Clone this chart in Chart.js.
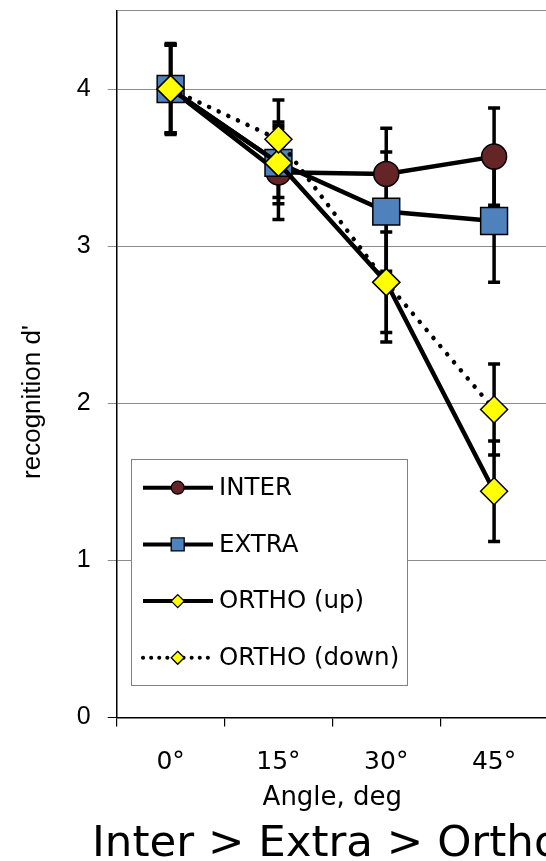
<!DOCTYPE html>
<html>
<head>
<meta charset="utf-8">
<script src="https://cdn.jsdelivr.net/npm/chart.js@4.4.0/dist/chart.umd.min.js"></script>
<style>
  html, body { margin: 0; padding: 0; background: #fff; overflow: hidden; }
  #wrap { width: 560px; height: 861px; }
</style>
</head>
<body>
<div id="wrap"><canvas id="chart" width="560" height="861"></canvas></div>
<script>
const angles = ['0°', '15°', '30°', '45°'];
const seriesNames = ['INTER', 'EXTRA', 'ORTHO (up)', 'ORTHO (down)'];

const interMean = [4.00, 3.47, 3.46, 3.57];
const interErr = [0.29, 0.30, 0.29, 0.31];
const extraMean = [4.00, 3.53, 3.22, 3.16];
const extraErr = [0.28, 0.26, 0.38, 0.39];
const orthoUpMean = [4.00, 3.53, 2.77, 1.44];
const orthoUpErr = [0.28, 0.22, 0.32, 0.32];
const orthoDownMean = [4.00, 3.68, 2.77, 1.96];
const orthoDownErr = [0.28, 0.25, 0.38, 0.29];

const yTicks = [0, 1, 2, 3, 4];
const yMax = 4.5;

const chartTitle = 'Inter > Extra > Ortho';
const xTitle = 'Angle, deg';
const yTitle = "recognition d'";

const GRID = '#8c8c8c';

// error bars under the lines and markers
const errorBars = {
    id: 'errorBars',
    beforeDatasetsDraw(chart) {
        const ctx = chart.ctx;
        const y = chart.scales.y;
        ctx.save();
        ctx.strokeStyle = '#000';
        ctx.lineWidth = 3.5;
        chart.data.datasets.forEach((ds, i) => {
            const meta = chart.getDatasetMeta(i);
            meta.data.forEach((pt, j) => {
                const hi = y.getPixelForValue(ds.data[j] + ds.errors[j]);
                const lo = y.getPixelForValue(ds.data[j] - ds.errors[j]);
                ctx.beginPath();
                ctx.moveTo(pt.x, hi); ctx.lineTo(pt.x, lo);
                ctx.moveTo(pt.x - 6, hi); ctx.lineTo(pt.x + 6, hi);
                ctx.moveTo(pt.x - 6, lo); ctx.lineTo(pt.x + 6, lo);
                ctx.stroke();
            });
        });
        ctx.restore();
    }
};

function drawMarker(ctx, style, x, y, fill) {
    ctx.beginPath();
    if (style === 'circle') {
        ctx.arc(x, y, 6.5, 0, Math.PI * 2);
    } else if (style === 'rect') {
        ctx.rect(x - 6.5, y - 6.5, 13, 13);
    } else {
        ctx.moveTo(x, y - 6.5); ctx.lineTo(x + 6.5, y);
        ctx.lineTo(x, y + 6.5); ctx.lineTo(x - 6.5, y);
        ctx.closePath();
    }
    ctx.fillStyle = fill;
    ctx.fill();
    ctx.lineWidth = 1.3;
    ctx.strokeStyle = '#000';
    ctx.stroke();
}

// legend box inside the plot, axis title and slide caption
const extras = {
    id: 'extras',
    afterDraw(chart) {
        const ctx = chart.ctx;
        ctx.save();

        // legend
        ctx.fillStyle = '#fff';
        ctx.fillRect(131, 459, 276.5, 226.7);
        ctx.strokeStyle = '#808080';
        ctx.lineWidth = 1;
        ctx.strokeRect(131.5, 459.5, 276, 226);
        chart.data.datasets.forEach((ds, i) => {
            const ry = 487.7 + i * 56.7;
            ctx.strokeStyle = '#000';
            ctx.lineWidth = 4;
            ctx.lineCap = ds.borderDash ? 'round' : 'butt';
            ctx.setLineDash(ds.borderDash ? [0.1, 8] : []);
            ctx.beginPath();
            ctx.moveTo(143, ry); ctx.lineTo(213, ry);
            ctx.stroke();
            ctx.setLineDash([]);
            drawMarker(ctx, ds.pointStyle, 177.7, ry, ds.pointBackgroundColor);
            ctx.fillStyle = '#000';
            ctx.font = '24.5px "DejaVu Sans"';
            ctx.textAlign = 'left';
            ctx.textBaseline = 'middle';
            ctx.fillText(ds.label, 219, ry + 1);
        });

        // y axis title
        ctx.save();
        ctx.translate(40, 402);
        ctx.rotate(-Math.PI / 2);
        ctx.font = '26px "Liberation Sans"';
        ctx.textAlign = 'center';
        ctx.textBaseline = 'alphabetic';
        ctx.fillStyle = '#000';
        ctx.fillText(yTitle, 0, 0);
        ctx.restore();

        // caption under the chart
        ctx.font = '43.5px "DejaVu Sans"';
        ctx.textAlign = 'left';
        ctx.textBaseline = 'alphabetic';
        ctx.fillStyle = '#000';
        ctx.fillText(chartTitle, 92, 856);

        ctx.restore();
    }
};

function lineSet(label, data, errors, style, fill, radius, order, dashed) {
    return {
        label: label,
        data: data,
        errors: errors,
        order: order,
        borderColor: '#000',
        borderWidth: 4.5,
        borderDash: dashed ? [0.1, 10.5] : undefined,
        borderCapStyle: dashed ? 'round' : 'butt',
        tension: 0,
        fill: false,
        pointStyle: style,
        pointRadius: radius,
        pointHoverRadius: radius,
        pointBackgroundColor: fill,
        pointBorderColor: '#000',
        pointBorderWidth: 1.5
    };
}

new Chart(document.getElementById('chart'), {
    type: 'line',
    data: {
        labels: angles,
        datasets: [
            lineSet(seriesNames[0], interMean, interErr, 'circle', '#652426', 12.5, 3, false),
            lineSet(seriesNames[1], extraMean, extraErr, 'rect', '#4F81BD', 19, 2, false),
            lineSet(seriesNames[2], orthoUpMean, orthoUpErr, 'rectRot', '#FFFF00', 13.5, 1, false),
            lineSet(seriesNames[3], orthoDownMean, orthoDownErr, 'rectRot', '#FFFF00', 13.5, 0, true)
        ]
    },
    options: {
        responsive: false,
        animation: false,
        events: [],
        layout: { autoPadding: false, padding: { left: 0, right: 12, top: 10.5, bottom: 0 } },
        plugins: {
            legend: { display: false },
            tooltip: { enabled: false }
        },
        scales: {
            x: {
                offset: true,
                afterFit(scale) {
                    scale.height = 143.5;
                    scale.paddingLeft = 0;
                    scale.paddingRight = 0;
                },
                grid: { offset: true, drawOnChartArea: false, tickLength: 9, tickColor: '#000', lineWidth: 1.2 },
                border: { color: '#000', width: 1.5 },
                ticks: {
                    color: '#000',
                    font: { family: '"DejaVu Sans"', size: 25 },
                    padding: 21,
                    maxRotation: 0,
                    autoSkip: false
                },
                title: {
                    display: true,
                    text: xTitle,
                    color: '#000',
                    font: { family: '"DejaVu Sans"', size: 26 },
                    padding: { top: 0, bottom: 47.3 }
                }
            },
            y: {
                min: 0,
                max: yMax,
                afterFit(scale) {
                    scale.width = 116.7;
                    scale.paddingTop = 0;
                    scale.paddingBottom = 0;
                },
                ticks: {
                    stepSize: 1,
                    color: '#000',
                    font: { family: '"Liberation Sans"', size: 25 },
                    padding: 17,
                    callback: v => yTicks.includes(v) ? v : ''
                },
                grid: {
                    color: GRID,
                    lineWidth: 1,
                    tickLength: 9,
                    tickColor: c => c.tick.value === 0 ? '#000' : (c.tick.value === yMax ? 'rgba(0,0,0,0)' : GRID)
                },
                border: { color: '#000', width: 1.5 }
            }
        }
    },
    plugins: [errorBars, extras]
});
</script>
</body>
</html>
